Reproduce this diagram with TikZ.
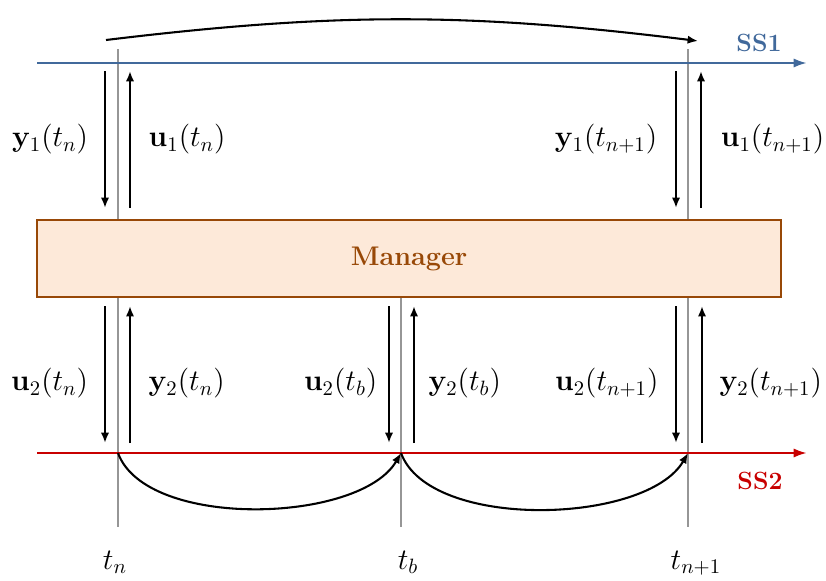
\documentclass[tikz,border=0pt]{standalone}
\usepackage{amsmath}
\usepackage{tikz}
\usetikzlibrary{arrows.meta, positioning, calc}
\definecolor{ssblue}{RGB}{65,105,155}
\definecolor{ssred}{RGB}{200,0,0}
\definecolor{mgrfill}{RGB}{253,233,217}
\definecolor{mgrdraw}{RGB}{152,72,7}
\definecolor{tgray}{RGB}{150,150,150}
\tikzset{
  arrow/.style={-{Latex[length=5pt,width=4pt]}, line width=1pt, color=black},
  axis/.style={-{Latex[length=6.5pt,width=4.5pt]}, line width=1.2pt},
  tline/.style={line width=1pt, color=tgray},
  lbl/.style={font=\Large, inner sep=0pt},
  sslbl/.style={font=\large\bfseries, inner sep=0pt},
  manager/.style={rectangle, draw=mgrdraw, fill=mgrfill, line width=1pt,
    font=\fontsize{13}{15}\selectfont\bfseries, text=mgrdraw, minimum width=12.61cm, minimum height=1.305cm}
}

\begin{document}
\begin{tikzpicture}[x=0.01695cm, y=0.01695cm]
  \useasboundingbox (0,0) rectangle (826,580);

  % Time lines
  \coordinate (tntop) at (118,531);
  \coordinate (tnbot) at (118,53);
  \coordinate (tbbot) at (401,53);
  \coordinate (tmtop) at (688,531);
  \coordinate (tmbot) at (688,53);
  \draw[tline] (tntop) -- (tnbot);
  \draw[tline] (tmtop) -- (tmbot);

  % Manager
  \node[manager] (mgr) at (409,321.5) {Manager};
  \draw[tline] (mgr.south -| tbbot) -- (tbbot);

  % Subsystem axes
  \coordinate (ss1start) at (37,517);
  \coordinate (ss1end) at (807,517);
  \coordinate (ss2start) at (37,127);
  \coordinate (ss2end) at (807,127);
  \draw[axis, ssblue] (ss1start) -- (ss1end);
  \draw[axis, ssred] (ss2start) -- (ss2end);
  \node[sslbl, text=ssblue] (ss1) at (759,537) {SS1};
  \node[sslbl, text=ssred] (ss2) at (760,99) {SS2};

  % SS1 <-> Manager
  \draw[arrow] ($(tntop |- ss1start)+(-13,-8)$) -- ($(tntop |- mgr.north)+(-13,11)$) node[lbl, midway, left=0.27cm] {$\mathbf{y}_1(t_n)$};
  \draw[arrow] ($(tntop |- mgr.north)+(12,11)$) -- ($(tntop |- ss1start)+(12,-8)$) node[lbl, midway, right=0.3cm] {$\mathbf{u}_1(t_n)$};
  \draw[arrow] ($(tmtop |- ss1start)+(-12,-8)$) -- ($(tmtop |- mgr.north)+(-12,11)$) node[lbl, midway, left=0.3cm] {$\mathbf{y}_1(t_{n+1})$};
  \draw[arrow] ($(tmtop |- mgr.north)+(13,11)$) -- ($(tmtop |- ss1start)+(13,-8)$) node[lbl, midway, right=0.32cm] {$\mathbf{u}_1(t_{n+1})$};

  % Manager <-> SS2
  \draw[arrow] ($(tnbot |- mgr.south)+(-13,-8)$) -- ($(tnbot |- ss2start)+(-13,10)$) node[lbl, midway, left=0.27cm, yshift=-0.15cm] {$\mathbf{u}_2(t_n)$};
  \draw[arrow] ($(tnbot |- ss2start)+(12,10)$) -- ($(tnbot |- mgr.south)+(12,-8)$) node[lbl, midway, right=0.3cm, yshift=-0.15cm] {$\mathbf{y}_2(t_n)$};
  \draw[arrow] ($(tbbot |- mgr.south)+(-12,-8)$) -- ($(tbbot |- ss2start)+(-12,10)$) node[lbl, midway, left=0.18cm, yshift=-0.15cm] {$\mathbf{u}_2(t_b)$};
  \draw[arrow] ($(tbbot |- ss2start)+(13,10)$) -- ($(tbbot |- mgr.south)+(13,-8)$) node[lbl, midway, right=0.23cm, yshift=-0.15cm] {$\mathbf{y}_2(t_b)$};
  \draw[arrow] ($(tmbot |- mgr.south)+(-12,-8)$) -- ($(tmbot |- ss2start)+(-12,10)$) node[lbl, midway, left=0.28cm, yshift=-0.15cm] {$\mathbf{u}_2(t_{n+1})$};
  \draw[arrow] ($(tmbot |- ss2start)+(14,10)$) -- ($(tmbot |- mgr.south)+(14,-8)$) node[lbl, midway, right=0.28cm, yshift=-0.15cm] {$\mathbf{y}_2(t_{n+1})$};

  % Steps
  \draw[arrow] ($(tntop)+(-12,9)$) to[bend left=7] ($(tmtop)+(10,8)$);
  \draw[arrow] (tnbot |- ss2start) to[out=-70, in=-120, looseness=0.74] (tbbot |- ss2start);
  \draw[arrow] (tbbot |- ss2start) to[out=-70, in=-120, looseness=0.74] (tmbot |- ss2start);

  % Time labels
  \node[lbl, anchor=base] (lbltn) at ($(tnbot)+(-3,-42)$) {$t_n$};
  \node[lbl, anchor=base] (lbltb) at ($(tbbot)+(7,-42)$) {$t_b$};
  \node[lbl, anchor=base] (lbltm) at ($(tmbot)+(8,-42)$) {$t_{n+1}$};
\end{tikzpicture}
\end{document}
